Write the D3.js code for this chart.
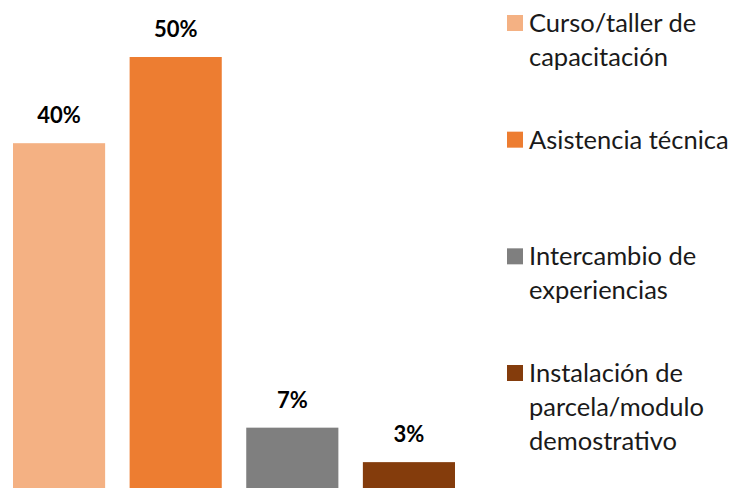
<!DOCTYPE html>
<meta charset="utf-8">
<script src="https://d3js.org/d3.v7.min.js"></script>
<style>
  body { margin: 0; background: #fff; }
  svg { display: block; }
</style>
<div id="chart"></div>
<script>
  // data
  const categories = ["Curso/taller de capacitación", "Asistencia técnica", "Intercambio de experiencias", "Instalación de parcela/modulo demostrativo"]
  const values = [0.40, 0.50, 0.07, 0.03]
  const valueLabels = ["40%", "50%", "7%", "3%"]
  const legendLines = [
    ["Curso/taller de", "capacitación"],
    ["Asistencia técnica"],
    ["Intercambio de", "experiencias"],
    ["Instalación de", "parcela/modulo", "demostrativo"]
  ]
  const colors = ["#F4B183", "#ED7D31", "#7F7F7F", "#843C0C"]

  const width = 734, height = 488

  const svg = d3.select("#chart")
    .append("svg")
    .attr("width", width)
    .attr("height", height)

  const x = d3.scaleBand()
    .domain(categories)
    .range([13, 455])
    .paddingInner(0.21)
    .paddingOuter(0)

  const y = d3.scaleLinear()
    .domain([0, 0.5])
    .range([488, 57])

  const color = d3.scaleOrdinal().domain(categories).range(colors)

  // bars
  svg.selectAll(".bar")
    .data(categories)
    .join("rect")
    .attr("class", "bar")
    .attr("x", d => x(d))
    .attr("width", x.bandwidth())
    .attr("y", (d, i) => y(values[i]))
    .attr("height", (d, i) => y(0) - y(values[i]))
    .attr("fill", d => color(d))

  // value labels
  svg.selectAll(".val")
    .data(categories)
    .join("text")
    .attr("class", "val")
    .attr("x", d => x(d) + x.bandwidth() / 2)
    .attr("y", (d, i) => y(values[i]) - 20)
    .attr("text-anchor", "middle")
    .attr("font-family", "Lato")
    .attr("font-weight", "bold")
    .attr("font-size", 22)
    .attr("fill", "#000")
    .text((d, i) => valueLabels[i])

  // legend
  const ly = d3.scalePoint().domain(categories).range([32, 382])
  const lineH = 34

  const item = svg.selectAll(".legend")
    .data(categories)
    .join("g")
    .attr("class", "legend")
    .attr("transform", d => `translate(507,${ly(d)})`)

  item.append("rect")
    .attr("x", 0)
    .attr("y", -17)
    .attr("width", 16)
    .attr("height", 16)
    .attr("fill", d => color(d))

  item.append("text")
    .attr("font-family", "Lato")
    .attr("font-size", 25.5)
    .attr("fill", "#1a1a1a")
    .selectAll("tspan")
    .data((d, i) => legendLines[i])
    .join("tspan")
    .attr("x", 22)
    .attr("y", (d, j) => j * lineH)
    .text(d => d)
</script>
